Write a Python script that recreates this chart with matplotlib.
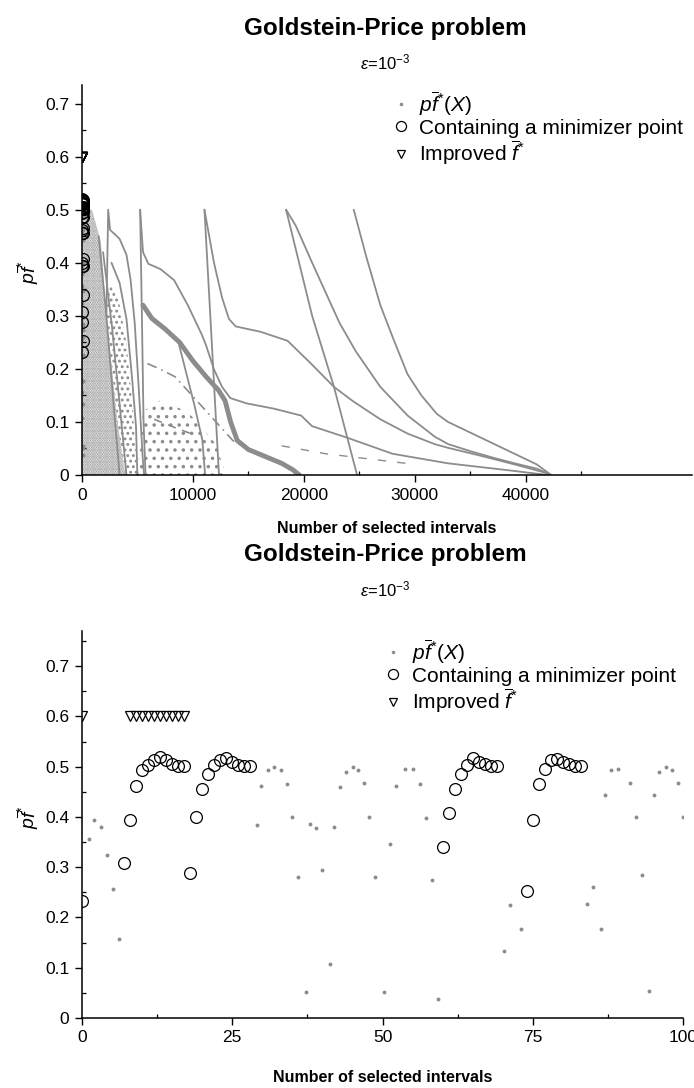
import matplotlib
matplotlib.use('Agg')
import matplotlib.pyplot as plt
from matplotlib.ticker import MultipleLocator, FixedLocator

plt.rcParams['font.family'] = ['Liberation Sans', 'DejaVu Sans']
plt.rcParams['mathtext.fontset'] = 'custom'
plt.rcParams['mathtext.rm'] = 'Liberation Sans'
plt.rcParams['mathtext.it'] = 'Liberation Sans:italic'
plt.rcParams['mathtext.bf'] = 'Liberation Sans:bold'
plt.rcParams['hatch.linewidth'] = 1.3

# ---------------- data ----------------
# intervals containing a minimizer point (index, pf value)
min_x = [0, 7, 8, 9, 10, 11, 12, 13, 14, 15, 16, 17,
         18, 19, 20, 21, 22, 23, 24, 25, 26, 27, 28,
         60, 61, 62, 63, 64, 65, 66, 67, 68, 69,
         74, 75, 76, 77, 78, 79, 80, 81, 82, 83]
min_y = [0.232, 0.308, 0.394, 0.461, 0.493, 0.504, 0.514, 0.520, 0.514, 0.506, 0.502, 0.502,
         0.289, 0.400, 0.456, 0.486, 0.503, 0.513, 0.518, 0.510, 0.504, 0.502, 0.502,
         0.340, 0.407, 0.456, 0.486, 0.503, 0.518, 0.510, 0.505, 0.502, 0.502,
         0.252, 0.393, 0.466, 0.496, 0.514, 0.516, 0.510, 0.505, 0.502, 0.502]

# iterations where the upper bound f* improved
imp_x = [0, 8, 9, 10, 11, 12, 13, 14, 15, 16, 17]
imp_y = [0.6] * 11

# pf*(X) of the other selected intervals (first 100)
pf_x = [1.2, 2.0, 3.1, 4.1, 5.1, 6.1,
        29.1, 29.8, 31.0, 32.0, 33.1, 34.1, 34.9, 36.0, 37.3, 38.0, 38.9, 39.9, 41.2,
        42.0, 43.0, 43.9, 45.1, 46.0, 46.9, 47.8, 48.8, 50.3, 51.2, 52.2, 53.7, 55.1,
        56.2, 57.2, 58.2, 59.2,
        70.2, 71.2, 73.1, 84.0, 85.0, 86.3, 87.0, 88.1, 89.2, 91.2, 92.1, 93.2, 94.4,
        95.1, 96.0, 97.1, 98.2, 99.2, 100.0]
pf_y = [0.357, 0.393, 0.380, 0.324, 0.256, 0.157,
        0.384, 0.461, 0.493, 0.500, 0.494, 0.466, 0.400, 0.281, 0.051, 0.386, 0.379, 0.295, 0.107,
        0.380, 0.459, 0.490, 0.499, 0.494, 0.467, 0.400, 0.281, 0.051, 0.347, 0.461, 0.495, 0.495,
        0.466, 0.398, 0.274, 0.037,
        0.134, 0.225, 0.178, 0.227, 0.261, 0.178, 0.443, 0.493, 0.495, 0.467, 0.400, 0.284, 0.054,
        0.443, 0.490, 0.499, 0.494, 0.467, 0.400]

# traces formed by the pf*(X) points over the whole run
curve_r1_x = [24500, 25650, 26900, 28100, 29350, 30600, 32000, 33000, 35000, 37000, 39000, 41000, 42300]
curve_r1_y = [0.500, 0.410, 0.320, 0.255, 0.190, 0.150, 0.115, 0.100, 0.080, 0.060, 0.040, 0.020, 0.000]
curve_r2_x = [18400, 19270, 20750, 23210, 24690, 26900, 29360, 31820, 33040, 35000, 37000, 39000, 41000, 42300]
curve_r2_y = [0.500, 0.470, 0.400, 0.287, 0.233, 0.166, 0.112, 0.072, 0.058, 0.045, 0.033, 0.022, 0.012, 0.000]
steep_r2_x = [18400, 20750, 22720, 24800]
steep_r2_y = [0.500, 0.300, 0.166, 0.000]
curve_c_x = [11040, 11900, 12630, 13250, 13860, 16080, 18530, 20500, 22720, 24440, 26900, 29360, 31820, 33040, 36000, 39000, 42000]
curve_c_y = [0.500, 0.400, 0.334, 0.294, 0.280, 0.270, 0.253, 0.213, 0.166, 0.139, 0.105, 0.078, 0.058, 0.051, 0.036, 0.020, 0.003]
steep_c_x = [11040, 11700, 12350]
steep_c_y = [0.500, 0.250, 0.000]
curve_d_x = [5240, 5500, 5980, 7080, 8310, 9540, 10770, 11160, 11900, 12630, 13370, 14840, 17310, 19760, 20750, 23950, 28000, 33000, 38000, 42000]
curve_d_y = [0.500, 0.420, 0.398, 0.388, 0.367, 0.320, 0.266, 0.246, 0.199, 0.166, 0.145, 0.135, 0.125, 0.112, 0.092, 0.070, 0.040, 0.022, 0.010, 0.000]
steep_d_x = [5240, 5400, 5550, 5730]
steep_d_y = [0.500, 0.300, 0.100, 0.000]
curve_l1_x = [2200, 2360, 2530, 3390, 4010, 4380, 4750, 5110, 5480, 5600]
curve_l1_y = [0.300, 0.500, 0.462, 0.445, 0.415, 0.368, 0.287, 0.166, 0.031, 0.000]
curve_l1b_x = [2660, 3390, 4010, 4500, 4870, 4990]
curve_l1b_y = [0.400, 0.362, 0.294, 0.186, 0.092, 0.000]
curve_l2_x = [1500, 2200, 2900, 3390]
curve_l2_y = [0.450, 0.300, 0.120, 0.000]
curve_l3_x = [1900, 2700, 3500, 4010]
curve_l3_y = [0.420, 0.280, 0.110, 0.000]
thin_t1_x = [8660, 9390, 10120, 10850, 11100]
thin_t1_y = [0.253, 0.193, 0.133, 0.066, 0.000]
band_x = [5500, 6300, 7500, 8800, 10000, 11200, 12300, 12900, 13400, 14000, 15000, 16500, 18000, 19000, 19600]
band_y = [0.320, 0.295, 0.275, 0.250, 0.215, 0.185, 0.160, 0.140, 0.100, 0.065, 0.048, 0.035, 0.022, 0.010, 0.000]
dash1_x = [5900, 7000, 8400, 9700, 11000, 12300, 13600, 14800]
dash1_y = [0.210, 0.200, 0.185, 0.155, 0.125, 0.095, 0.065, 0.050]
dash2_x = [6500, 8300, 9800]
dash2_y = [0.105, 0.090, 0.078]
dash3_x = [18000, 22000, 26000, 30000]
dash3_y = [0.055, 0.040, 0.030, 0.020]
# outlines of the dense clouds of points at the start of the run
cloud_dense_x = [0, 0, 900, 1700, 2200, 2700, 3200, 3900]
cloud_dense_y = [0.0, 0.50, 0.50, 0.44, 0.30, 0.20, 0.10, 0.0]
cloud_sparse_x = [2200, 2500, 3300, 4000, 4500, 5000, 3900, 3200, 2700]
cloud_sparse_y = [0.30, 0.36, 0.33, 0.25, 0.14, 0.0, 0.0, 0.10, 0.20]
cloud_low_x = [5000, 5500, 7000, 9500, 12000, 13000]
cloud_low_y = [0.0, 0.12, 0.14, 0.12, 0.06, 0.0]

GRAY = '#8c8c8c'

fig = plt.figure(figsize=(6.94, 10.88), dpi=100)
W, H = 694.0, 1088.0
# top panel: y=0 at 475 px, 0.1 per 53 px ; x from 82 px, 10000 per 111 px
ax1 = fig.add_axes([82 / W, (H - 475) / H, 610 / W, 390 / H])
# bottom panel: y=0 at 1018 px, 0.1 per 50.3 px ; x 82..683 px
ax2 = fig.add_axes([82 / W, (H - 1018) / H, 601 / W, 387 / H])


def style(ax, xmax, ymax):
    ax.set_ylim(0, ymax)
    ax.set_xlim(0, xmax)
    for s in ('top', 'right'):
        ax.spines[s].set_visible(False)
    for s in ('left', 'bottom'):
        ax.spines[s].set_linewidth(1.1)
    ax.yaxis.set_major_locator(MultipleLocator(0.1))
    ax.yaxis.set_minor_locator(MultipleLocator(0.05))
    ax.tick_params(which='major', direction='out', length=5, width=1.0, labelsize=12.5, pad=4)
    ax.tick_params(which='minor', direction='in', length=3, width=0.9)
    ax.yaxis.set_major_formatter(plt.FuncFormatter(lambda v, p: '0' if abs(v) < 1e-9 else f'{v:.1f}'))
    ax.set_ylabel(r'$p\overline{f}^{*}$', fontsize=14, rotation=90)
    ax.yaxis.set_label_coords(-0.068, 0.52)


style(ax1, 55000, 0.735)
style(ax2, 100, 0.77)
ax1.xaxis.set_major_locator(FixedLocator([0, 10000, 20000, 30000, 40000]))
ax1.xaxis.set_minor_locator(FixedLocator([5000, 15000, 25000, 35000, 45000]))
ax2.xaxis.set_major_locator(MultipleLocator(25))
ax2.xaxis.set_minor_locator(MultipleLocator(12.5))

# ---- top panel ----
ax1.fill(cloud_dense_x, cloud_dense_y, facecolor='none', edgecolor=GRAY, hatch='.......', linewidth=0)
ax1.fill(cloud_sparse_x, cloud_sparse_y, facecolor='none', edgecolor=GRAY, hatch='...', linewidth=0)
ax1.fill(cloud_low_x, cloud_low_y, facecolor='none', edgecolor=GRAY, hatch='..', linewidth=0)
for xs, ys in [(curve_r1_x, curve_r1_y), (curve_r2_x, curve_r2_y), (steep_r2_x, steep_r2_y),
               (curve_c_x, curve_c_y), (steep_c_x, steep_c_y), (curve_d_x, curve_d_y),
               (steep_d_x, steep_d_y), (curve_l1_x, curve_l1_y), (curve_l1b_x, curve_l1b_y),
               (curve_l2_x, curve_l2_y), (curve_l3_x, curve_l3_y), (thin_t1_x, thin_t1_y)]:
    ax1.plot(xs, ys, color=GRAY, lw=1.3, solid_capstyle='round')
ax1.plot(band_x, band_y, color=GRAY, lw=3.5, solid_capstyle='round')
ax1.plot(dash1_x, dash1_y, color=GRAY, lw=1.2, ls=(0, (6, 3, 1, 3)))
ax1.plot(dash2_x, dash2_y, color=GRAY, lw=1.2, ls=(0, (5, 4)))
ax1.plot(dash3_x, dash3_y, color=GRAY, lw=1.0, ls=(0, (6, 8)))


def marks(ax, anchor):
    h1, = ax.plot(pf_x, pf_y, ls='none', marker='o', ms=1.8, mfc=GRAY, mec=GRAY,
                  label=r'$p\overline{f}^{*}(X)$')
    h2, = ax.plot(min_x, min_y, ls='none', marker='o', ms=8.5, mfc='none', mec='black', mew=0.9,
                  label='Containing a minimizer point')
    h3, = ax.plot(imp_x, imp_y, ls='none', marker='v', ms=6.5, mfc='none', mec='black', mew=0.9,
                  label=r'Improved $\overline{f}^{*}$')
    ax.legend(handles=[h1, h2, h3], loc='upper left', bbox_to_anchor=anchor,
              frameon=False, fontsize=15, handlelength=0.8, handletextpad=0.5,
              labelspacing=0.05, borderaxespad=0.0, markerscale=0.85)


marks(ax1, (0.495, 1.01))
marks(ax2, (0.49, 1.005))

ax1.set_xlabel('Number of selected intervals', fontsize=11.5, fontweight='bold')
ax1.xaxis.set_label_coords(0.5, -46 / 390)
ax2.set_xlabel('Number of selected intervals', fontsize=11.5, fontweight='bold')
ax2.xaxis.set_label_coords(0.5, -52 / 387)

# titles
for yt, ys, xc in ((28, 62, 385), (555, 589, 385)):
    fig.text(xc / W, 1 - yt / H, 'Goldstein-Price problem', ha='center', va='center',
             fontsize=17.5, fontweight='bold')
    fig.text(xc / W, 1 - ys / H, r'$\varepsilon$=10$^{-3}$', ha='center', va='center', fontsize=12)

fig.savefig('out.png', dpi=100)
